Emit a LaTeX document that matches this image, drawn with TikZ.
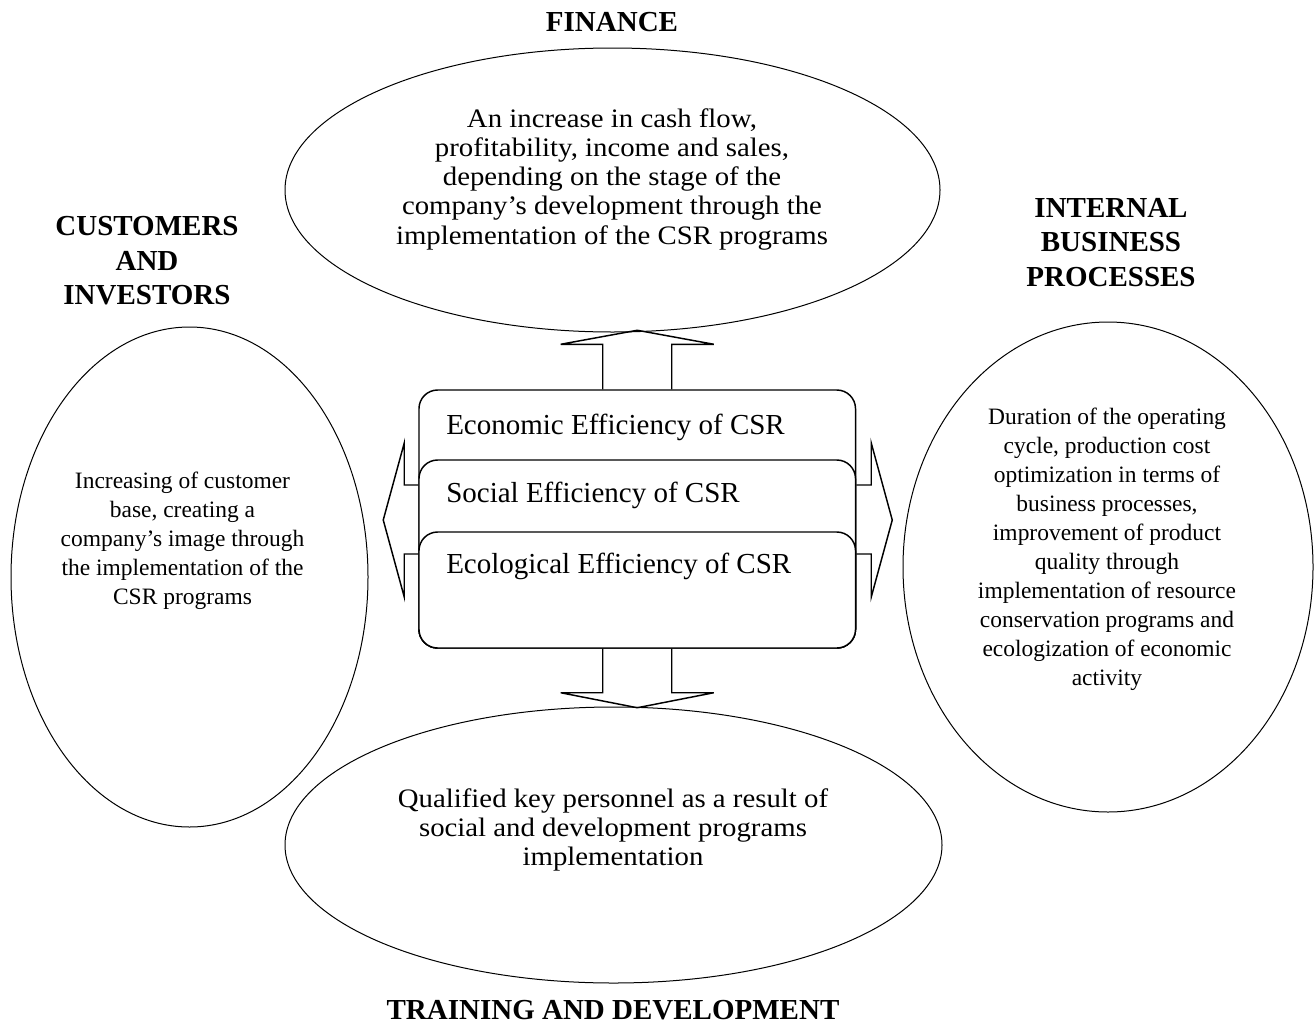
\documentclass[tikz,border=0pt]{standalone}
\usepackage{fontspec}
\setmainfont{Liberation Serif}
\newfontfamily\widefont[FakeStretch=1.08]{Liberation Serif}
\usetikzlibrary{shapes.geometric,calc}
\begin{document}
\begin{tikzpicture}[x=0.75pt,y=-0.75pt,
  oval/.style={draw,ellipse,inner sep=0pt,line width=0.75pt},
  head/.style={font=\bfseries\fontsize{21.75pt}{25.9pt}\selectfont,align=center,inner sep=0pt},
  bigtxt/.style={font=\widefont\fontsize{20pt}{21.94pt}\selectfont,align=center,inner sep=0pt},
  smalltxt/.style={font=\fontsize{17.6pt}{21.75pt}\selectfont,align=center,inner sep=0pt},
  layer/.style={draw,fill=white,rounded corners=14pt,line width=1.1pt,minimum width=327.4pt,inner sep=0pt},
  efftxt/.style={font=\fontsize{21.75pt}{26pt}\selectfont,anchor=base west,inner sep=0pt},
  blockarrow/.style={draw,line width=1.1pt,line join=miter}
]
\useasboundingbox (0,0) rectangle (1316,1028);

% ellipses
\node[oval,minimum width=491.25pt,minimum height=213pt] (fin) at (612.5,190) {};
\node[oval,minimum width=267.75pt,minimum height=375pt] (cust) at (189.5,577) {};
\node[oval,minimum width=307.5pt,minimum height=367.5pt] (proc) at (1108,567) {};
\node[oval,minimum width=492.75pt,minimum height=207pt] (train) at (613.5,845) {};

% stacked boxes
\node[layer,minimum height=193.5pt] (eco) at (637.25,519) {};
\node[layer,minimum height=141pt] (soc) at (637.25,554) {};
\node[layer,minimum height=87pt] (ecl) at (637.25,590) {};

\node[efftxt] (ecot) at (446,434) {Economic Efficiency of CSR};
\node[efftxt] (soct) at (446,502) {Social Efficiency of CSR};
\node[efftxt] (eclt) at (446,573) {Ecological Efficiency of CSR};

% block arrows
\coordinate (tipT) at ($(eco.north)+(0,-59)$);
\coordinate (tipB) at ($(eco.south)+(0,59)$);
\coordinate (tipL) at ($(eco.west)+(-35,1)$);
\coordinate (tipR) at ($(eco.east)+(36,1)$);
\draw[blockarrow] ($(eco.north)+(-34.5,0)$) -- ++(0,-45) -- ++(-42,0) -- (tipT)
  -- ($(eco.north)+(76.5,-45)$) -- ++(-42,0) -- ++(0,45);
\draw[blockarrow] ($(eco.south)+(-34.5,0)$) -- ++(0,44) -- ++(-42,0) -- (tipB)
  -- ($(eco.south)+(76.5,44)$) -- ++(-42,0) -- ++(0,-44);
\draw[blockarrow] ($(eco.west)+(0,-34)$) -- ++(-14,0) -- ++(0,-42) -- (tipL)
  -- ($(eco.west)+(-14,78)$) -- ++(0,-43) -- ++(14,0);
\draw[blockarrow] ($(eco.east)+(0,-34)$) -- ++(15,0) -- ++(0,-42) -- (tipR)
  -- ($(eco.east)+(15,78)$) -- ++(0,-43) -- ++(-15,0);

% headings
\node[head] (hfin) at (612,22) {FINANCE};
\node[head] (hcust) at (147,261) {CUSTOMERS\\AND\\INVESTORS};
\node[head] (hproc) at (1111,242.5) {INTERNAL\\BUSINESS\\PROCESSES};
\node[head] (htrain) at (613,1010) {TRAINING AND DEVELOPMENT};

% texts
\node[bigtxt] (tfin) at (612,179) {An increase in cash flow,\\profitability, income and sales,\\depending on the stage of the\\company’s development through the\\implementation of the CSR programs};
\node[smalltxt] (tcust) at (182.5,541) {Increasing of customer\\base, creating a\\company’s image through\\the implementation of the\\CSR programs};
\node[smalltxt] (tproc) at (1107,549) {Duration of the operating\\cycle, production cost\\optimization in terms of\\business processes,\\improvement of product\\quality through\\implementation of resource\\conservation programs and\\ecologization of economic\\activity};
\node[bigtxt] (ttrain) at (613,830) {Qualified key personnel as a result of\\social and development programs\\implementation};
\end{tikzpicture}
\end{document}
